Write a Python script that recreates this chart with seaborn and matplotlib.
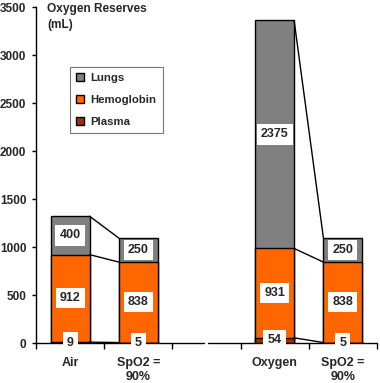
import pandas as pd
import seaborn as sns
import matplotlib.pyplot as plt
from matplotlib.patches import Patch

# data (mL of oxygen)
groups = ['Air', 'SpO2 air', 'gap', 'Oxygen', 'SpO2 o2']
tick_labels = ['Air', 'SpO2 =\n90%', '', 'Oxygen', 'SpO2 =\n90%']
bars = ['Air', 'SpO2 air', 'Oxygen', 'SpO2 o2']
plasma = [9, 5, 54, 5]
hemoglobin = [912, 838, 931, 838]
lungs = [400, 250, 2375, 250]
pairs = [('Air', 'SpO2 air'), ('Oxygen', 'SpO2 o2')]

c_lungs = '#808080'
c_hemo = '#ff6600'
c_plasma = '#993300'

sns.set_style('white')
plt.rcParams['font.family'] = ['Liberation Sans', 'DejaVu Sans']
plt.rcParams['font.weight'] = 'bold'
plt.rcParams['font.size'] = 9

df = pd.DataFrame({'group': bars, 'plasma': plasma, 'hemoglobin': hemoglobin, 'lungs': lungs})
df['mid'] = df['plasma'] + df['hemoglobin']
df['total'] = df['mid'] + df['lungs']

fig = plt.figure(figsize=(3.8, 3.83), dpi=100)
ax = fig.add_axes([0.0947, 0.1044, 0.8973, 0.8773])

w = 0.57
for col, c in [('total', c_lungs), ('mid', c_hemo), ('plasma', c_plasma)]:
    sns.barplot(data=df, x='group', y=col, order=groups, color=c, saturation=1,
                width=w, edgecolor='black', linewidth=1, ax=ax)

pos = {g: i for i, g in enumerate(groups)}

# connector lines between the bars
d = df.set_index('group')
for a, b in pairs:
    for col in ['total', 'mid', 'plasma']:
        ax.plot([pos[a] + w / 2, pos[b] - w / 2], [d.loc[a, col], d.loc[b, col]],
                color='black', lw=1, zorder=3)

# white boxed value labels
box = dict(facecolor='white', edgecolor='none', pad=3)
for _, r in df.iterrows():
    x = pos[r['group']]
    ax.text(x, r['plasma'] / 2, str(r['plasma']), ha='center', va='center', bbox=box, zorder=5)
    ax.text(x, r['plasma'] + r['hemoglobin'] / 2, str(r['hemoglobin']), ha='center', va='center', bbox=box, zorder=5)
    ax.text(x, r['mid'] + r['lungs'] / 2, str(r['lungs']), ha='center', va='center', bbox=box, zorder=5)

ax.set_xlim(-0.5, 4.5)
ax.set_ylim(0, 3500)
ax.set_yticks(range(0, 3501, 500))
ax.set_xlabel('')
ax.set_ylabel('')

ax.set_xticks([-0.5, 0.5, 1.5, 2.5, 3.5, 4.5], [''] * 6)
ax.set_xticks([0, 1, 2, 3, 4], tick_labels, minor=True)
ax.tick_params(axis='x', which='major', direction='out', length=4, width=1, color='black', bottom=True)
ax.tick_params(axis='x', which='minor', length=0, pad=10)
ax.tick_params(axis='y', direction='out', length=3, width=1, color='black', pad=4,
               left=True, labelsize=8.5)

for s in ['top', 'right', 'bottom']:
    ax.spines[s].set_visible(False)
ax.spines['left'].set_color('black')
ax.spines['left'].set_linewidth(1)

# broken x axis
ax.plot([-0.5, 1.97], [0, 0], color='black', lw=1, clip_on=False, zorder=4)
ax.plot([2.02, 4.5], [0, 0], color='black', lw=1, clip_on=False, zorder=4)

fig.text(0.124, 0.992, 'Oxygen Reserves\n(mL)', ha='left', va='top', linespacing=1.4, fontsize=8.6)

handles = [Patch(facecolor=c_lungs, edgecolor='black', label='Lungs'),
           Patch(facecolor=c_hemo, edgecolor='black', label='Hemoglobin'),
           Patch(facecolor=c_plasma, edgecolor='black', label='Plasma')]
leg = fig.legend(handles=handles, loc='upper left', bbox_to_anchor=(0.184, 0.825),
                 borderaxespad=0, fancybox=False, handlelength=0.7, handleheight=0.7,
                 handletextpad=0.55, labelspacing=1.05, borderpad=0.55, fontsize=8.2)
leg.get_frame().set_edgecolor('#555555')
leg.get_frame().set_linewidth(0.8)

fig.savefig('out.png', dpi=100)
